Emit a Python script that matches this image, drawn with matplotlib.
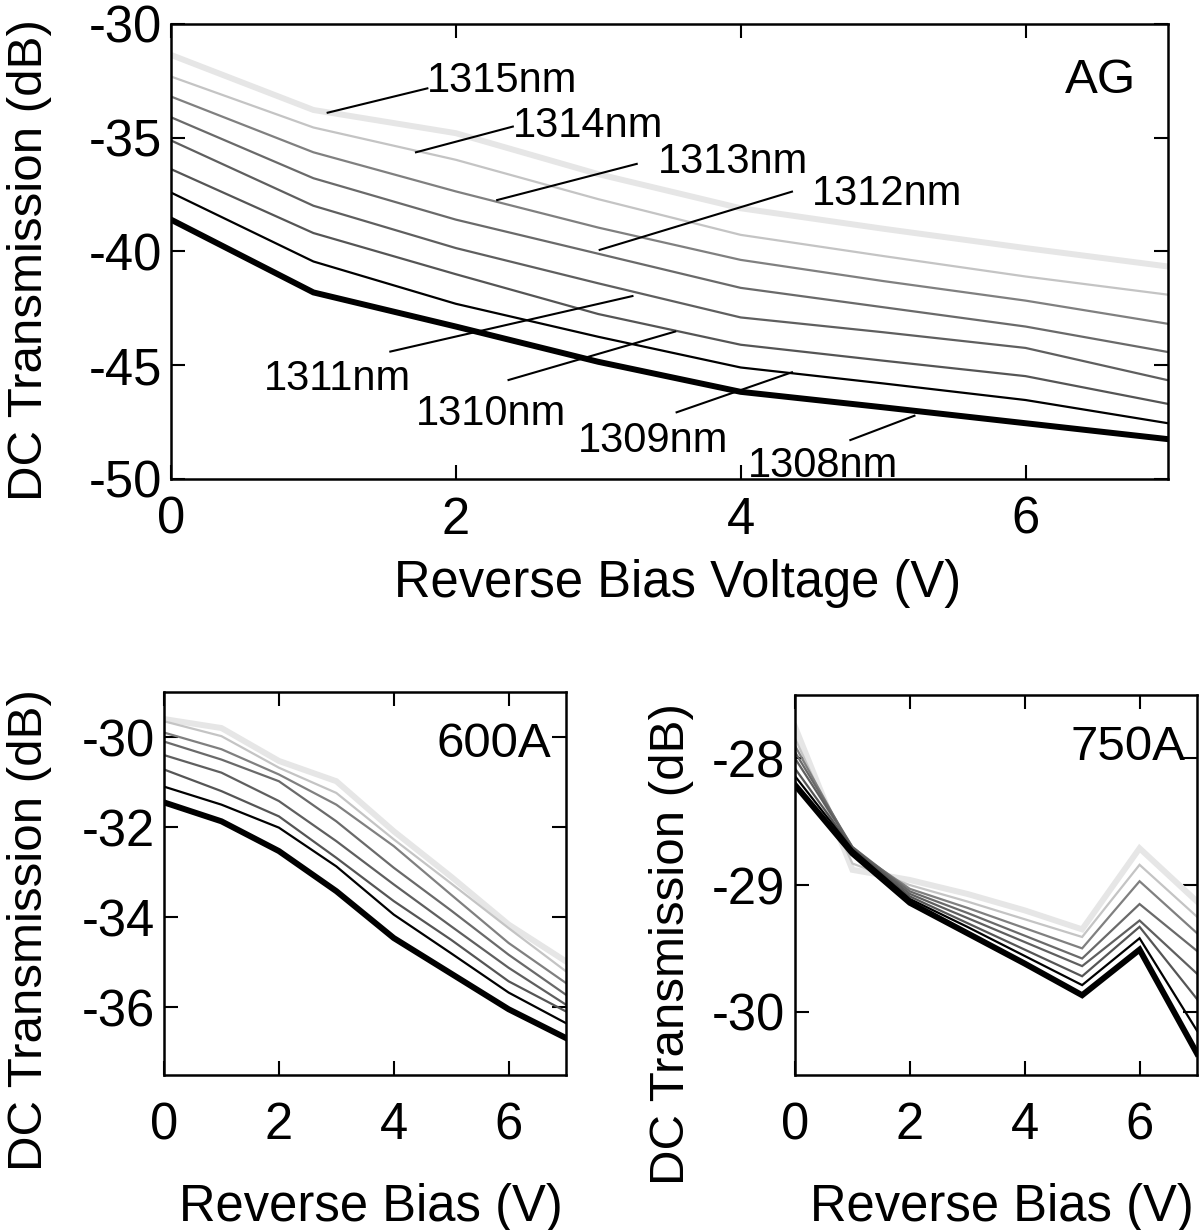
import matplotlib
matplotlib.use("Agg")
import matplotlib.pyplot as plt

# reverse bias voltage (V)
bias = [0, 1, 2, 3, 4, 5, 6, 7]
wavelengths = ["1308nm", "1309nm", "1310nm", "1311nm", "1312nm", "1313nm", "1314nm", "1315nm"]

# AG sample, DC transmission (dB), one list per wavelength
ag_1308 = [-38.6, -41.8, -43.3, -44.85, -46.17, -46.85, -47.55, -48.25]
ag_1309 = [-37.41, -40.44, -42.3, -43.75, -45.1, -45.8, -46.53, -47.55]
ag_1310 = [-36.38, -39.19, -41.0, -42.75, -44.1, -44.8, -45.48, -46.7]
ag_1311 = [-35.12, -37.99, -39.85, -41.4, -42.9, -43.55, -44.24, -45.66]
ag_1312 = [-34.1, -36.78, -38.6, -40.1, -41.6, -42.45, -43.3, -44.42]
ag_1313 = [-33.19, -35.64, -37.36, -38.95, -40.37, -41.3, -42.16, -43.18]
ag_1314 = [-32.31, -34.55, -35.97, -37.7, -39.27, -40.2, -41.1, -41.9]
ag_1315 = [-31.36, -33.78, -34.8, -36.6, -38.1, -39.0, -39.85, -40.66]

# 600A sample
s600_1308 = [-31.45, -31.87, -32.53, -33.42, -34.46, -35.25, -36.04, -36.68]
s600_1309 = [-31.1, -31.5, -32.01, -32.87, -33.94, -34.8, -35.67, -36.35]
s600_1310 = [-30.72, -31.2, -31.76, -32.68, -33.64, -34.5, -35.42, -36.09]
s600_1311 = [-30.4, -30.79, -31.42, -32.31, -33.27, -34.2, -35.12, -35.94]
s600_1312 = [-30.1, -30.5, -30.98, -31.87, -32.9, -33.85, -34.83, -35.72]
s600_1313 = [-29.9, -30.27, -30.83, -31.5, -32.42, -33.5, -34.57, -35.46]
s600_1314 = [-29.65, -29.98, -30.68, -31.24, -32.27, -33.25, -34.24, -35.2]
s600_1315 = [-29.6, -29.8, -30.53, -30.98, -32.09, -33.1, -34.16, -34.98]

# 750A sample
s750_1308 = [-28.21, -28.75, -29.14, -29.38, -29.62, -29.87, -29.51, -30.33]
s750_1309 = [-28.14, -28.72, -29.11, -29.33, -29.56, -29.79, -29.42, -30.15]
s750_1310 = [-28.08, -28.71, -29.09, -29.3, -29.51, -29.72, -29.33, -29.9]
s750_1311 = [-28.0, -28.7, -29.07, -29.26, -29.45, -29.64, -29.28, -29.7]
s750_1312 = [-27.95, -28.7, -29.05, -29.22, -29.4, -29.58, -29.15, -29.52]
s750_1313 = [-27.9, -28.72, -29.03, -29.18, -29.34, -29.5, -28.97, -29.38]
s750_1314 = [-27.84, -28.83, -29.0, -29.13, -29.27, -29.41, -28.84, -29.25]
s750_1315 = [-27.75, -28.88, -28.96, -29.07, -29.2, -29.35, -28.71, -29.13]

ag = [ag_1308, ag_1309, ag_1310, ag_1311, ag_1312, ag_1313, ag_1314, ag_1315]
s600 = [s600_1308, s600_1309, s600_1310, s600_1311, s600_1312, s600_1313, s600_1314, s600_1315]
s750 = [s750_1308, s750_1309, s750_1310, s750_1311, s750_1312, s750_1313, s750_1314, s750_1315]

# label callouts on the AG panel: (text x, text y, line from, line to)
label_text_x = [4.05, 2.86, 1.72, 0.65, 4.50, 3.42, 2.40, 1.80]
label_text_y = [-49.9, -48.8, -47.63, -46.09, -37.96, -36.56, -34.95, -32.98]
line_start = [(4.77, -48.29), (3.55, -47.07), (2.37, -45.65), (1.54, -44.40),
              (3.01, -39.93), (2.29, -37.74), (1.72, -35.64), (1.10, -33.90)]
line_end = [(5.22, -47.22), (4.36, -45.31), (3.54, -43.52), (3.24, -41.96),
            (4.36, -37.37), (3.27, -36.15), (2.40, -34.51), (1.80, -32.83)]

colors = ["#000000", "#000000", "#555555", "#5f5f5f", "#6a6a6a", "#808080", "#c4c4c4", "#e6e6e6"]
widths = [4.3, 1.6, 1.6, 1.6, 1.6, 1.6, 1.6, 4.3]

plt.rcParams["font.family"] = ["Liberation Sans", "DejaVu Sans"]
plt.rcParams["axes.unicode_minus"] = False
plt.rcParams["xtick.direction"] = "in"
plt.rcParams["ytick.direction"] = "in"
plt.rcParams["xtick.top"] = True
plt.rcParams["ytick.right"] = True
plt.rcParams["axes.linewidth"] = 1.8

fig = plt.figure(figsize=(12, 12.3), dpi=100)
ax1 = fig.add_axes([0.1425, 0.6106, 0.8308, 0.3699])
ax2 = fig.add_axes([0.1367, 0.1260, 0.3350, 0.3114])
ax3 = fig.add_axes([0.6625, 0.1260, 0.3350, 0.3089])


def draw_curves(ax, curves):
    # light/thin ones first so the thick black ends up on top
    for i in range(len(curves) - 1, -1, -1):
        ax.plot(bias, curves[i], color=colors[i], lw=widths[i], solid_joinstyle="miter")


draw_curves(ax1, ag)
draw_curves(ax2, s600)
draw_curves(ax3, s750)

TICK_FS = 36.5
LABEL_FS = 36.5

# --- top panel ---
ax1.set_xlim(0, 7)
ax1.set_ylim(-50, -30)
ax1.set_xticks([0, 2, 4, 6])
ax1.set_yticks([-50, -45, -40, -35, -30])
ax1.tick_params(axis="x", labelsize=TICK_FS, length=10, width=1.5, pad=12)
ax1.tick_params(axis="y", labelsize=TICK_FS, length=10, width=1.5, pad=6.5)
ax1.set_xlabel("Reverse Bias Voltage (V)", fontsize=LABEL_FS)
ax1.xaxis.set_label_coords(0.508, -0.176)
ax1.set_ylabel("DC Transmission (dB)", fontsize=35.5)
ax1.yaxis.set_label_coords(-0.119, 0.481)
ax1.text(0.968, 0.848, "AG", transform=ax1.transAxes, fontsize=35.5,
         ha="right", va="baseline")

for i in range(len(wavelengths)):
    ax1.plot([line_start[i][0], line_end[i][0]], [line_start[i][1], line_end[i][1]],
             color="black", lw=1.5)
    ax1.text(label_text_x[i], label_text_y[i], wavelengths[i], fontsize=30,
             ha="left", va="baseline")

# --- bottom left (600A) ---
ax2.set_xlim(0, 7)
ax2.set_ylim(-37.5, -29)
ax2.set_xticks([0, 2, 4, 6])
ax2.set_yticks([-36, -34, -32, -30])
ax2.tick_params(axis="x", labelsize=TICK_FS, length=10, width=1.5, pad=19)
ax2.tick_params(axis="y", labelsize=TICK_FS, length=10, width=1.5, pad=6.5)
ax2.set_xlabel("Reverse Bias (V)", fontsize=LABEL_FS)
ax2.xaxis.set_label_coords(0.515, -0.282)
ax2.set_ylabel("DC Transmission (dB)", fontsize=35.5)
ax2.yaxis.set_label_coords(-0.279, 0.379)
ax2.text(0.963, 0.830, "600A", transform=ax2.transAxes, fontsize=35.5,
         ha="right", va="baseline")

# --- bottom right (750A) ---
ax3.set_xlim(0, 7)
ax3.set_ylim(-30.5, -27.5)
ax3.set_xticks([0, 2, 4, 6])
ax3.set_yticks([-30, -29, -28])
ax3.tick_params(axis="x", labelsize=TICK_FS, length=10, width=1.5, pad=19)
ax3.tick_params(axis="y", labelsize=TICK_FS, length=10, width=1.5, pad=7)
ax3.set_xlabel("Reverse Bias (V)", fontsize=LABEL_FS)
ax3.xaxis.set_label_coords(0.515, -0.284)
ax3.set_ylabel("DC Transmission (dB)", fontsize=35.5)
ax3.yaxis.set_label_coords(-0.251, 0.345)
ax3.text(0.971, 0.829, "750A", transform=ax3.transAxes, fontsize=35.5,
         ha="right", va="baseline")

fig.savefig("out.png", dpi=100)
